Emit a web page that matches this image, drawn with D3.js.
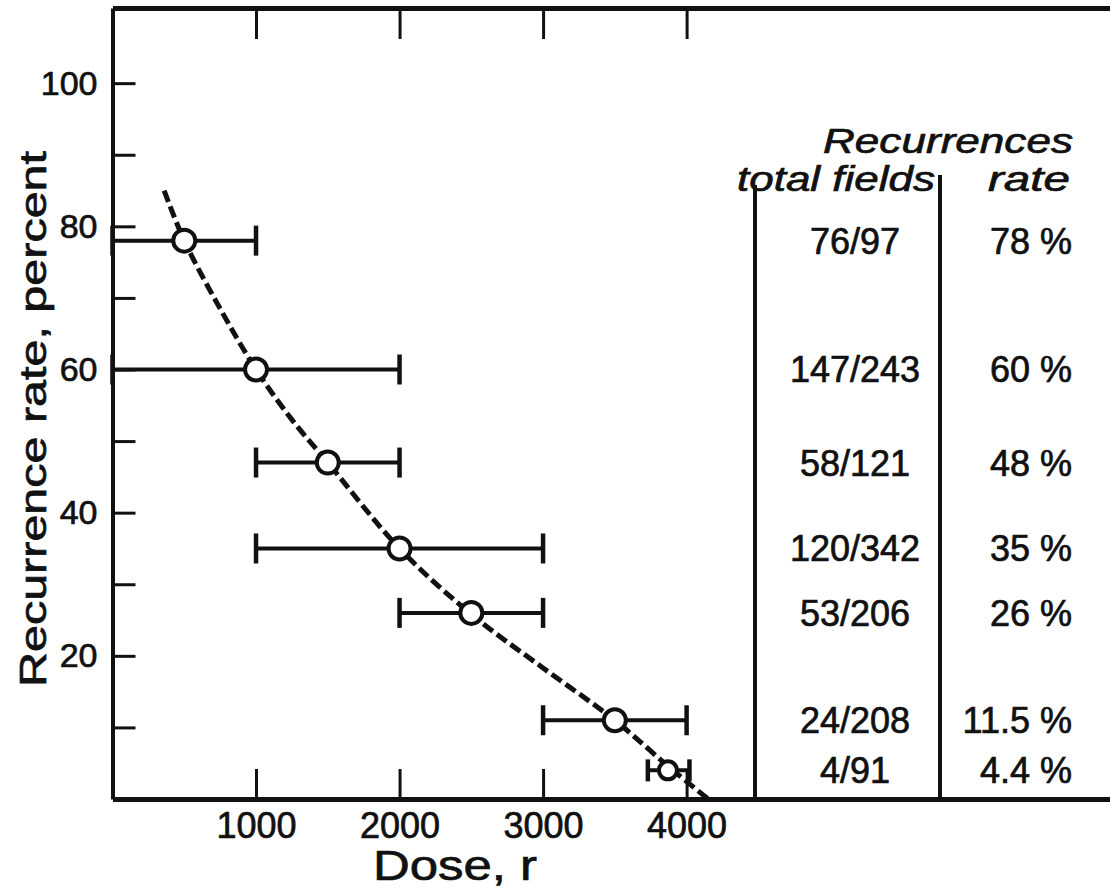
<!DOCTYPE html>
<html>
<head>
<meta charset="utf-8">
<script src="https://cdn.jsdelivr.net/npm/d3@7"></script>
<style>
  body { margin: 0; background: #fff; }
  svg { display: block; }
  text { font-family: 'Liberation Sans', Arial, sans-serif; fill: #111; stroke: #111; stroke-width: 0.7px; }
  .axis path, .axis line { stroke: #111; }
</style>
</head>
<body>
<svg id="chart"></svg>
<script>
// dose groups: mean dose, dose range, recurrence rate
const doses = [500, 1000, 1500, 2000, 2500, 3500, 3870];
const doseLow = [0, 0, 1000, 1000, 2000, 3000, 3730];
const doseHigh = [1000, 2000, 2000, 3000, 3000, 4000, 4020];
const rates = [78, 60, 47, 35, 26, 11, 4];
const fields = ['76/97', '147/243', '58/121', '120/342', '53/206', '24/208', '4/91'];
const rateLabels = ['78 %', '60 %', '48 %', '35 %', '26 %', '11.5 %', '4.4 %'];

// dashed fitted curve
const curveDose = [360, 500, 750, 1000, 1250, 1500, 2000, 2500, 3000, 3500, 3870, 4150];
const curveRate = [85, 78, 68.5, 60, 53, 47, 35, 25.8, 18.3, 11, 4.6, 0];

const xTicks = [1000, 2000, 3000, 4000];
const yTicks = [10, 20, 30, 40, 50, 60, 70, 80, 90, 100];
const yLabelTicks = [20, 40, 60, 80, 100];

const width = 1110, height = 889;
const svg = d3.select('#chart').attr('width', width).attr('height', height);

// x runs past 4000 so the frame reaches the right edge
const x = d3.scaleLinear().domain([0, 6950]).range([112.5, 1110]);
const y = d3.scaleLinear().domain([0, 110.5]).range([799, 8]);

// bottom axis, ticks point inward
const xAxis = d3.axisBottom(x).tickValues(xTicks).tickSize(-30).tickSizeOuter(0)
  .tickFormat(d3.format('d'));
const gx = svg.append('g').attr('class', 'axis')
  .attr('transform', `translate(0,${y(0)})`).call(xAxis);
gx.select('.domain').attr('stroke-width', 5);
gx.selectAll('.tick line').attr('stroke-width', 3);
gx.selectAll('.tick text').attr('y', 13).attr('dy', '0.71em')
  .style('font-size', '36px').attr('fill', '#111');

// top frame
const xTop = d3.axisTop(x).tickValues(xTicks).tickSize(-31).tickSizeOuter(0).tickFormat('');
const gt = svg.append('g').attr('class', 'axis')
  .attr('transform', `translate(0,${y(110.5)})`).call(xTop);
gt.select('.domain').attr('stroke-width', 5).attr('stroke', '#333');
gt.selectAll('.tick line').attr('stroke-width', 3).attr('stroke', '#444');

// left axis
const yAxis = d3.axisLeft(y).tickValues(yTicks).tickSize(-23).tickSizeOuter(0)
  .tickFormat(d => yLabelTicks.includes(d) ? d : '');
const gy = svg.append('g').attr('class', 'axis')
  .attr('transform', `translate(${x(0)},0)`).call(yAxis);
gy.select('.domain').attr('stroke-width', 4);
gy.selectAll('.tick line').attr('stroke-width', 3);
gy.selectAll('.tick text').attr('x', -15).style('font-size', '34px').attr('fill', '#111');

// axis titles
svg.append('text')
  .attr('transform', `translate(46,${(150 + 688) / 2}) rotate(-90)`)
  .attr('text-anchor', 'middle')
  .style('font-size', '37px')
  .attr('textLength', 536).attr('lengthAdjust', 'spacingAndGlyphs')
  .text('Recurrence rate, percent');

svg.append('text')
  .attr('x', 455).attr('y', 880)
  .attr('text-anchor', 'middle')
  .style('font-size', '42px')
  .attr('textLength', 164).attr('lengthAdjust', 'spacingAndGlyphs')
  .text('Dose, r');

// dashed curve
const curveData = curveDose.map((d, i) => [d, curveRate[i]]);
svg.append('path')
  .datum(curveData)
  .attr('fill', 'none')
  .attr('stroke', '#111')
  .attr('stroke-width', 5)
  .attr('stroke-dasharray', '12,5')
  .attr('d', d3.line().x(d => x(d[0])).y(d => y(d[1])).curve(d3.curveCatmullRom));

// error bars
const pts = doses.map((d, i) => ({ dose: d, lo: doseLow[i], hi: doseHigh[i], rate: rates[i] }));
const bars = svg.append('g').selectAll('g').data(pts).join('g');
bars.append('line')
  .attr('x1', d => x(d.lo)).attr('x2', d => x(d.hi))
  .attr('y1', d => y(d.rate)).attr('y2', d => y(d.rate))
  .attr('stroke', '#111').attr('stroke-width', 4);
bars.selectAll('.cap')
  .data((d, i) => [d.lo, d.hi].map(v => ({ v, rate: d.rate, small: i === pts.length - 1 })))
  .join('line')
  .attr('class', 'cap')
  .attr('x1', d => x(d.v)).attr('x2', d => x(d.v))
  .attr('y1', d => y(d.rate) - (d.small ? 11 : 15))
  .attr('y2', d => y(d.rate) + (d.small ? 11 : 15))
  .attr('stroke', '#111').attr('stroke-width', 4.5);
bars.append('circle')
  .attr('cx', d => x(d.dose)).attr('cy', d => y(d.rate))
  .attr('r', (d, i) => i === pts.length - 1 ? 9 : 11)
  .attr('fill', '#fff').attr('stroke', '#111').attr('stroke-width', 4);

// table on the right
svg.append('line').attr('x1', 755).attr('x2', 755).attr('y1', 185).attr('y2', y(0))
  .attr('stroke', '#111').attr('stroke-width', 4);
svg.append('line').attr('x1', 940).attr('x2', 940).attr('y1', 175).attr('y2', y(0))
  .attr('stroke', '#111').attr('stroke-width', 4);

svg.append('text').attr('x', 1073).attr('y', 153).attr('text-anchor', 'end')
  .style('font-size', '35px').style('font-style', 'italic')
  .attr('textLength', 250).attr('lengthAdjust', 'spacingAndGlyphs')
  .text('Recurrences');
svg.append('text').attr('x', 737).attr('y', 191)
  .style('font-size', '35px').style('font-style', 'italic')
  .attr('textLength', 198).attr('lengthAdjust', 'spacingAndGlyphs')
  .text('total fields');
svg.append('text').attr('x', 1070).attr('y', 191).attr('text-anchor', 'end')
  .style('font-size', '35px').style('font-style', 'italic')
  .attr('textLength', 82).attr('lengthAdjust', 'spacingAndGlyphs')
  .text('rate');

svg.append('g').selectAll('text').data(fields).join('text')
  .attr('x', 855).attr('y', (d, i) => y(rates[i]))
  .attr('dy', '0.36em').attr('text-anchor', 'middle')
  .style('font-size', '36px')
  .text(d => d);

svg.append('g').selectAll('text').data(rateLabels).join('text')
  .attr('x', 1072).attr('y', (d, i) => y(rates[i]))
  .attr('dy', '0.36em').attr('text-anchor', 'end')
  .style('font-size', '36px')
  .text(d => d);
</script>
</body>
</html>
